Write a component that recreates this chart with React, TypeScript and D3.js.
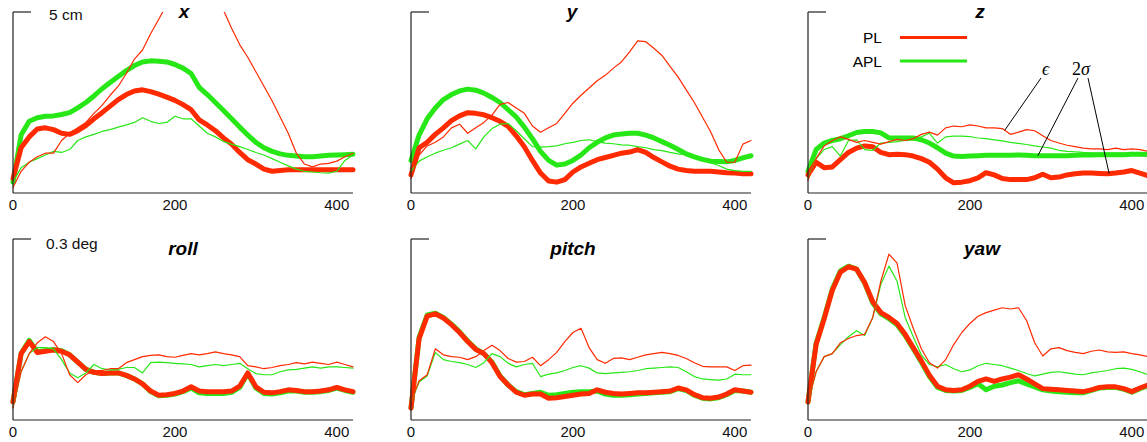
import React from "react";
import * as d3 from "d3";

// time samples (frames)
const T = [0, 10, 20, 30, 40, 50, 60, 70, 80, 90, 100, 110, 120, 130, 140, 150, 160, 170, 180, 190, 200, 210, 220, 230, 240, 250, 260, 270, 280, 290, 300, 310, 320, 330, 340, 350, 360, 370, 380, 390, 400, 410, 420];
const X_TICKS = [0, 200, 400];

// x (cm)
const xPlEps = [0.15, 0.6, 0.85, 1.0, 1.1, 1.1, 1.45, 1.65, 1.8, 1.95, 2.2, 2.42, 2.7, 2.95, 3.3, 3.7, 3.95, 4.4, 4.8, 5.2, 5.7, 6.2, 6.6, 6.3, 5.9, 5.5, 5.05, 4.55, 4.1, 3.75, 3.35, 2.95, 2.55, 2.1, 1.65, 1.1, 0.8, 0.72, 0.8, 0.82, 0.88, 1.0, 1.1];
const xAplEps = [0.3, 0.7, 0.85, 0.95, 1.05, 1.15, 1.12, 1.2, 1.45, 1.55, 1.62, 1.7, 1.75, 1.82, 1.88, 1.95, 2.08, 1.98, 1.92, 1.95, 2.12, 2.05, 2.05, 1.85, 1.65, 1.55, 1.42, 1.35, 1.28, 1.2, 1.12, 1.05, 0.95, 0.85, 0.75, 0.66, 0.6, 0.58, 0.56, 0.55, 0.6, 0.9, 1.05];
const xPlSig = [0.4, 1.25, 1.55, 1.77, 1.8, 1.75, 1.65, 1.62, 1.72, 1.86, 2.05, 2.22, 2.4, 2.58, 2.72, 2.82, 2.85, 2.8, 2.73, 2.65, 2.56, 2.44, 2.3, 2.02, 1.88, 1.72, 1.52, 1.35, 1.12, 0.92, 0.8, 0.66, 0.6, 0.62, 0.64, 0.64, 0.64, 0.64, 0.64, 0.64, 0.64, 0.64, 0.64];
const xAplSig = [0.3, 1.6, 1.98, 2.08, 2.12, 2.13, 2.17, 2.22, 2.35, 2.5, 2.68, 2.88, 3.05, 3.22, 3.38, 3.52, 3.62, 3.65, 3.64, 3.62, 3.55, 3.45, 3.3, 2.92, 2.72, 2.5, 2.28, 2.05, 1.82, 1.6, 1.4, 1.25, 1.15, 1.08, 1.04, 1.02, 1.0, 1.0, 1.02, 1.04, 1.05, 1.06, 1.07];

// y (cm)
const yPlEps = [0.4, 1.05, 1.3, 1.4, 1.55, 1.8, 1.9, 1.65, 1.8, 1.95, 2.15, 2.45, 2.5, 2.35, 2.2, 1.85, 1.68, 1.8, 1.92, 2.2, 2.48, 2.7, 2.9, 3.1, 3.25, 3.45, 3.62, 3.9, 4.2, 4.18, 4.0, 3.8, 3.5, 3.2, 2.85, 2.5, 2.1, 1.7, 1.2, 0.85, 0.85, 1.35, 1.45];
const yAplEps = [0.6, 0.88, 1.0, 1.1, 1.18, 1.25, 1.35, 1.45, 1.22, 1.55, 1.78, 1.9, 1.92, 1.72, 1.5, 1.28, 1.27, 1.28, 1.3, 1.36, 1.4, 1.45, 1.47, 1.42, 1.38, 1.36, 1.33, 1.32, 1.28, 1.25, 1.2, 1.17, 1.12, 1.08, 1.05, 0.98, 0.9, 0.84, 0.76, 0.66, 0.62, 0.6, 0.6];
const yPlSig = [0.5, 1.25, 1.4, 1.62, 1.8, 2.0, 2.13, 2.22, 2.2, 2.16, 2.08, 1.98, 1.84, 1.58, 1.28, 0.9, 0.55, 0.33, 0.3, 0.37, 0.58, 0.72, 0.82, 0.92, 0.98, 1.04, 1.1, 1.13, 1.2, 1.12, 0.98, 0.86, 0.74, 0.66, 0.62, 0.6, 0.6, 0.6, 0.58, 0.56, 0.55, 0.53, 0.53];
const yAplSig = [0.9, 1.6, 2.05, 2.35, 2.58, 2.72, 2.82, 2.87, 2.84, 2.76, 2.64, 2.5, 2.3, 2.1, 1.82, 1.5, 1.15, 0.9, 0.77, 0.8, 0.9, 1.05, 1.25, 1.4, 1.52, 1.6, 1.63, 1.65, 1.65, 1.6, 1.52, 1.42, 1.32, 1.2, 1.08, 1.0, 0.93, 0.88, 0.87, 0.86, 0.9, 0.97, 1.03];

// z (cm)
const zPlEps = [0.35, 0.95, 1.3, 1.45, 1.55, 1.48, 1.4, 1.45, 1.4, 1.35, 1.42, 1.48, 1.45, 1.5, 1.62, 1.68, 1.6, 1.8, 1.85, 1.83, 1.88, 1.85, 1.8, 1.8, 1.78, 1.62, 1.68, 1.75, 1.72, 1.58, 1.45, 1.38, 1.32, 1.28, 1.24, 1.22, 1.22, 1.2, 1.24, 1.2, 1.22, 1.2, 1.15];
const zAplEps = [0.4, 0.95, 1.2, 1.28, 1.02, 1.45, 1.47, 1.2, 1.18, 1.38, 1.4, 1.42, 1.45, 1.47, 1.55, 1.65, 1.38, 1.55, 1.57, 1.57, 1.56, 1.52, 1.5, 1.47, 1.44, 1.4, 1.37, 1.34, 1.3, 1.27, 1.24, 1.18, 1.15, 1.14, 1.12, 1.11, 1.1, 1.1, 1.1, 1.1, 1.1, 1.1, 1.08];
const zPlSig = [0.5, 0.85, 0.7, 0.72, 0.92, 1.12, 1.24, 1.3, 1.28, 1.12, 1.06, 1.07, 1.06, 1.02, 0.95, 0.85, 0.66, 0.42, 0.28, 0.3, 0.34, 0.42, 0.56, 0.5, 0.4, 0.37, 0.37, 0.37, 0.42, 0.52, 0.42, 0.44, 0.5, 0.53, 0.55, 0.55, 0.54, 0.53, 0.55, 0.58, 0.62, 0.55, 0.48];
const zAplSig = [0.6, 1.2, 1.38, 1.45, 1.5, 1.58, 1.67, 1.7, 1.7, 1.66, 1.52, 1.52, 1.52, 1.52, 1.47, 1.38, 1.25, 1.1, 1.02, 1.01, 1.02, 1.03, 1.04, 1.04, 1.04, 1.04, 1.05, 1.04, 1.03, 1.03, 1.03, 1.03, 1.03, 1.04, 1.05, 1.05, 1.06, 1.06, 1.06, 1.06, 1.07, 1.07, 1.06];

// roll (deg)
const rollPlEps = [0.02, 0.08, 0.11, 0.128, 0.138, 0.13, 0.11, 0.075, 0.062, 0.075, 0.082, 0.082, 0.085, 0.085, 0.095, 0.1, 0.105, 0.107, 0.108, 0.105, 0.104, 0.107, 0.11, 0.108, 0.11, 0.113, 0.11, 0.108, 0.105, 0.09, 0.088, 0.085, 0.087, 0.09, 0.092, 0.095, 0.093, 0.096, 0.094, 0.092, 0.096, 0.092, 0.088];
const rollAplEps = [0.02, 0.08, 0.11, 0.12, 0.12, 0.118, 0.1, 0.078, 0.07, 0.078, 0.092, 0.085, 0.083, 0.084, 0.087, 0.087, 0.078, 0.095, 0.096, 0.095, 0.094, 0.093, 0.092, 0.088, 0.09, 0.092, 0.09, 0.092, 0.094, 0.085, 0.077, 0.075, 0.075, 0.08, 0.083, 0.084, 0.086, 0.088, 0.086, 0.088, 0.088, 0.087, 0.086];
const rollPlSig = [0.03, 0.11, 0.13, 0.112, 0.114, 0.116, 0.114, 0.108, 0.096, 0.084, 0.079, 0.077, 0.078, 0.078, 0.074, 0.068, 0.06, 0.048, 0.041, 0.042, 0.044, 0.048, 0.055, 0.048, 0.047, 0.047, 0.047, 0.048, 0.056, 0.078, 0.055, 0.046, 0.045, 0.047, 0.05, 0.049, 0.047, 0.047, 0.048, 0.05, 0.054, 0.05, 0.047];
const rollAplSig = [0.03, 0.11, 0.132, 0.113, 0.115, 0.117, 0.115, 0.108, 0.096, 0.084, 0.079, 0.077, 0.078, 0.078, 0.074, 0.068, 0.06, 0.047, 0.04, 0.041, 0.043, 0.047, 0.053, 0.045, 0.044, 0.044, 0.044, 0.046, 0.054, 0.077, 0.053, 0.044, 0.043, 0.045, 0.048, 0.048, 0.046, 0.046, 0.047, 0.049, 0.053, 0.049, 0.046];

// pitch (deg)
const pitchPlEps = [0.03, 0.065, 0.075, 0.118, 0.108, 0.105, 0.104, 0.1, 0.105, 0.115, 0.124, 0.115, 0.102, 0.096, 0.097, 0.104, 0.09, 0.1, 0.112, 0.13, 0.145, 0.152, 0.12, 0.1, 0.094, 0.102, 0.103, 0.1, 0.104, 0.108, 0.11, 0.112, 0.11, 0.107, 0.102, 0.095, 0.089, 0.088, 0.088, 0.088, 0.082, 0.09, 0.091];
const pitchAplEps = [0.03, 0.063, 0.073, 0.112, 0.1, 0.097, 0.095, 0.092, 0.087, 0.095, 0.11, 0.105, 0.094, 0.088, 0.092, 0.094, 0.072, 0.076, 0.078, 0.082, 0.087, 0.09, 0.086, 0.078, 0.077, 0.078, 0.079, 0.08, 0.082, 0.085, 0.086, 0.087, 0.088, 0.087, 0.08, 0.072, 0.068, 0.067, 0.066, 0.068, 0.076, 0.075, 0.075];
const pitchPlSig = [0.02, 0.135, 0.172, 0.176, 0.169, 0.158, 0.145, 0.13, 0.117, 0.11, 0.095, 0.072, 0.058, 0.046, 0.041, 0.043, 0.043, 0.036, 0.037, 0.039, 0.041, 0.043, 0.044, 0.05, 0.046, 0.044, 0.043, 0.044, 0.045, 0.045, 0.046, 0.047, 0.048, 0.053, 0.05, 0.042, 0.037, 0.036, 0.038, 0.043, 0.05, 0.048, 0.046];
const pitchAplSig = [0.02, 0.137, 0.174, 0.177, 0.17, 0.159, 0.146, 0.131, 0.118, 0.11, 0.096, 0.073, 0.058, 0.047, 0.042, 0.044, 0.046, 0.041, 0.042, 0.044, 0.046, 0.047, 0.047, 0.048, 0.043, 0.041, 0.041, 0.042, 0.043, 0.044, 0.045, 0.046, 0.047, 0.052, 0.049, 0.041, 0.036, 0.035, 0.037, 0.042, 0.049, 0.048, 0.046];

// yaw (deg)
const yawPlEps = [0.03, 0.08, 0.105, 0.11, 0.128, 0.135, 0.14, 0.142, 0.17, 0.23, 0.275, 0.26, 0.19, 0.152, 0.118, 0.095, 0.086, 0.1, 0.125, 0.145, 0.16, 0.172, 0.178, 0.182, 0.186, 0.184, 0.186, 0.165, 0.128, 0.106, 0.118, 0.12, 0.115, 0.112, 0.11, 0.114, 0.116, 0.113, 0.112, 0.113, 0.11, 0.108, 0.105];
const yawAplEps = [0.03, 0.08, 0.105, 0.11, 0.125, 0.138, 0.148, 0.14, 0.17, 0.225, 0.255, 0.23, 0.17, 0.138, 0.108, 0.092, 0.088, 0.092, 0.085, 0.08, 0.083, 0.09, 0.094, 0.092, 0.09, 0.086, 0.082, 0.077, 0.073, 0.076, 0.079, 0.08, 0.078, 0.076, 0.075, 0.078, 0.08, 0.082, 0.085, 0.086, 0.084, 0.08, 0.075];
const yawPlSig = [0.03, 0.125, 0.168, 0.215, 0.245, 0.254, 0.25, 0.228, 0.196, 0.178, 0.17, 0.16, 0.142, 0.12, 0.098, 0.074, 0.056, 0.05, 0.049, 0.05, 0.056, 0.064, 0.068, 0.064, 0.068, 0.071, 0.075, 0.068, 0.06, 0.052, 0.051, 0.05, 0.049, 0.048, 0.047, 0.05, 0.054, 0.055, 0.055, 0.052, 0.047, 0.053, 0.058];
const yawAplSig = [0.03, 0.127, 0.17, 0.217, 0.247, 0.255, 0.25, 0.227, 0.194, 0.176, 0.168, 0.158, 0.14, 0.118, 0.096, 0.072, 0.054, 0.049, 0.048, 0.049, 0.054, 0.06, 0.05, 0.056, 0.058, 0.062, 0.065, 0.06, 0.055, 0.05, 0.048, 0.047, 0.046, 0.045, 0.045, 0.049, 0.053, 0.054, 0.054, 0.051, 0.046, 0.052, 0.057];

const TITLES = ["x", "y", "z", "roll", "pitch", "yaw"];
const Y_MAX = [5, 5, 5, 0.3, 0.3, 0.3];
const SCALE_LABELS = ["5 cm", "", "", "0.3 deg", "", ""];
const LEGEND_LABELS = ["PL", "APL"];

const SERIES = [
  [xPlEps, xAplEps, xPlSig, xAplSig],
  [yPlEps, yAplEps, yPlSig, yAplSig],
  [zPlEps, zAplEps, zPlSig, zAplSig],
  [rollPlEps, rollAplEps, rollPlSig, rollAplSig],
  [pitchPlEps, pitchAplEps, pitchPlSig, pitchAplSig],
  [yawPlEps, yawAplEps, yawPlSig, yawAplSig],
];

// annotation anchors (frame positions) in the z panel
const EPS_AT = 243;
const SIG_GREEN_AT = 284;
const SIG_RED_AT = 372;

const W = 1147;
const H = 442;
const LEFTS = [13, 411, 808];
const PW = 340;
const PH = 181;
const TOPS = [12, 239];
const TITLE_DX = [171, 161, 172, 170, 162, 174];
const RED = "#ff2a00";
const GREEN = "#27e816";
const AXIS = "#222";
const FONT = "'Liberation Sans', Arial, Helvetica, sans-serif";
const SERIF = "'Liberation Serif', 'DejaVu Serif', serif";

function interpAt(arr: number[], t: number) {
  const i = d3.bisectRight(T, t) - 1;
  const j = Math.min(i + 1, T.length - 1);
  if (i === j) return arr[i];
  const f = (t - T[i]) / (T[j] - T[i]);
  return arr[i] + (arr[j] - arr[i]) * f;
}

function Panel({ idx }: { idx: number }) {
  const col = idx % 3;
  const row = Math.floor(idx / 3);
  const left = LEFTS[col];
  const top = TOPS[row];
  const bottom = top + PH;
  const xs = d3.scaleLinear().domain([0, 420]).range([left, left + PW]);
  const ys = d3.scaleLinear().domain([0, Y_MAX[idx]]).range([bottom, top]);
  const line = d3
    .line<number>()
    .x((_, i) => xs(T[i]))
    .y((d) => ys(d))
    .curve(d3.curveLinear);
  const [plEps, aplEps, plSig, aplSig] = SERIES[idx];
  const clipId = `clip-${idx}`;

  let annotation = null;
  if (idx === 2) {
    const e = [xs(EPS_AT), ys(interpAt(plEps, EPS_AT))];
    const g = [xs(SIG_GREEN_AT), ys(interpAt(aplSig, SIG_GREEN_AT))];
    const r = [xs(SIG_RED_AT), ys(interpAt(plSig, SIG_RED_AT))];
    annotation = (
      <g>
        <line x1={1041} y1={78} x2={e[0]} y2={e[1]} stroke="#000" strokeWidth={1} />
        <line x1={1078} y1={78} x2={g[0]} y2={g[1]} stroke="#000" strokeWidth={1} />
        <line x1={1088} y1={78} x2={r[0]} y2={r[1]} stroke="#000" strokeWidth={1} />
        <text x={1042} y={75} fontFamily={SERIF} fontSize={18} fontStyle="italic">ϵ</text>
        <text x={1072} y={75} fontFamily={SERIF} fontSize={18}>
          2<tspan fontStyle="italic">σ</tspan>
        </text>
        <text x={882} y={42.5} textAnchor="end" fontFamily={FONT} fontSize={15.5}>{LEGEND_LABELS[0]}</text>
        <line x1={900} x2={967} y1={37.5} y2={37.5} stroke={RED} strokeWidth={3} />
        <text x={882} y={67} textAnchor="end" fontFamily={FONT} fontSize={15.5}>{LEGEND_LABELS[1]}</text>
        <line x1={900} x2={967} y1={61} y2={61} stroke={GREEN} strokeWidth={3} />
      </g>
    );
  }

  return (
    <g>
      <defs>
        <clipPath id={clipId}>
          <rect x={left - 4} y={top} width={PW + 8} height={PH + 6} />
        </clipPath>
      </defs>
      <g clipPath={`url(#${clipId})`} fill="none" strokeLinejoin="round" strokeLinecap="round">
        <path d={line(aplSig) || ""} stroke={GREEN} strokeWidth={5} />
        <path d={line(plSig) || ""} stroke={RED} strokeWidth={5} />
        <path d={line(aplEps) || ""} stroke={GREEN} strokeWidth={1.2} />
        <path d={line(plEps) || ""} stroke={RED} strokeWidth={1.2} />
      </g>
      <line x1={left} x2={left} y1={top} y2={bottom} stroke={AXIS} strokeWidth={1.2} />
      <line x1={left} x2={left + 18} y1={top} y2={top} stroke={AXIS} strokeWidth={1.2} />
      <line x1={left} x2={left + PW} y1={bottom} y2={bottom} stroke={AXIS} strokeWidth={1.2} />
      {X_TICKS.map((t) => (
        <text key={t} x={xs(t)} y={bottom + 16.5} textAnchor="middle" fontFamily={FONT} fontSize={15} fill="#111">
          {t}
        </text>
      ))}
      {SCALE_LABELS[idx] && (
        <text x={left + (row === 0 ? 36 : 33)} y={top + (row === 0 ? 8 : 10)} fontFamily={FONT} fontSize={15.5} fill="#111">
          {SCALE_LABELS[idx]}
        </text>
      )}
      <text
        x={left + TITLE_DX[idx]}
        y={top + (row === 0 ? 6 : 16)}
        textAnchor="middle"
        fontFamily={FONT}
        fontSize={19}
        fontWeight="bold"
        fontStyle="italic"
        fill="#000"
      >
        {TITLES[idx]}
      </text>
      {annotation}
    </g>
  );
}

export default function App() {
  return (
    <svg
      width={W}
      height={H}
      viewBox={`0 0 ${W} ${H}`}
      style={{ position: "absolute", left: 0, top: 0, background: "#fff" }}
    >
      <rect x={0} y={0} width={W} height={H} fill="#fff" />
      {TITLES.map((_, i) => (
        <Panel key={i} idx={i} />
      ))}
    </svg>
  );
}
